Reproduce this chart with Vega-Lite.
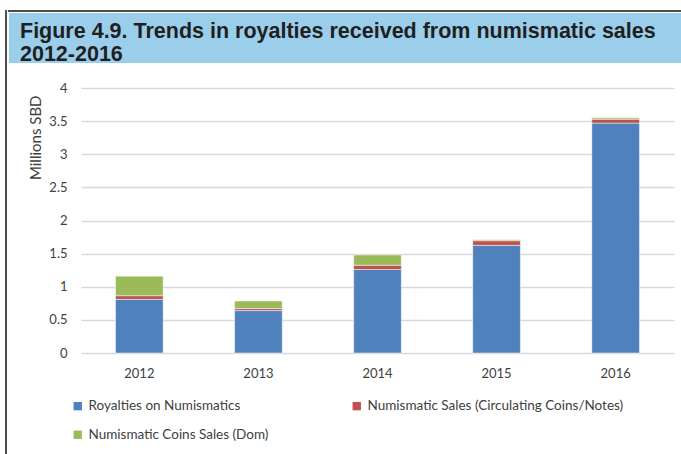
{
  "$schema": "https://vega.github.io/schema/vega-lite/v6.json",
  "padding": {"left": 5, "top": 10, "right": 0, "bottom": 0},
  "background": "white",
  "config": {"view": {"stroke": null}, "font": "Lato"},
  "spacing": 0,
  "resolve": {"scale": {"color": "independent"}, "legend": {"color": "independent"}},
  "hconcat": [
    {
      "width": 0.001, "height": 442,
      "view": {"stroke": "#4d4d4d", "strokeWidth": 2, "fill": null},
      "data": {"values": []},
      "mark": "point",
      "encoding": {}
    },
    {
      "spacing": 17,
      "resolve": {"scale": {"color": "independent"}, "legend": {"color": "independent"}},
      "vconcat": [
        {
          "spacing": 0,
          "vconcat": [
            {
              "width": 672, "height": 0.001,
              "view": {"stroke": "#4d4d4d", "strokeWidth": 2, "fill": null},
              "data": {"values": []},
              "mark": "point",
              "encoding": {}
            },
            {
              "width": 672, "height": 50,
              "view": {"fill": "#9ACEEB", "stroke": "transparent", "strokeWidth": 0},
              "data": {"values": []},
              "mark": "point",
              "encoding": {},
              "title": {
                "text": ["Figure 4.9. Trends in royalties received from numismatic sales", "2012-2016"],
                "font": "Liberation Sans",
                "fontSize": 21.5,
                "fontWeight": "bold",
                "color": "#1f1f1f",
                "anchor": "start",
                "frame": "group",
                "orient": "top",
                "baseline": "top",
                "offset": -52,
                "dx": 11,
                "lineHeight": 23
              }
            }
          ]
        },
        {
          "spacing": 18,
          "resolve": {"scale": {"color": "independent"}, "legend": {"color": "independent"}},
          "hconcat": [
            {
              "width": 0.001, "height": 10,
              "view": {"stroke": "transparent", "strokeWidth": 0, "fill": null},
              "data": {"values": []},
              "mark": "point",
              "encoding": {}
            },
            {
              "width": 593,
              "height": 265,
              "data": {
                "values": [
                  {"year": "2012", "series": "Royalties on Numismatics", "value": 0.81},
                  {"year": "2012", "series": "Numismatic Sales (Circulating Coins/Notes)", "value": 0.055},
                  {"year": "2012", "series": "Numismatic Coins Sales (Dom)", "value": 0.295},
                  {"year": "2013", "series": "Royalties on Numismatics", "value": 0.64},
                  {"year": "2013", "series": "Numismatic Sales (Circulating Coins/Notes)", "value": 0.03},
                  {"year": "2013", "series": "Numismatic Coins Sales (Dom)", "value": 0.115},
                  {"year": "2014", "series": "Royalties on Numismatics", "value": 1.26},
                  {"year": "2014", "series": "Numismatic Sales (Circulating Coins/Notes)", "value": 0.065},
                  {"year": "2014", "series": "Numismatic Coins Sales (Dom)", "value": 0.155},
                  {"year": "2015", "series": "Royalties on Numismatics", "value": 1.625},
                  {"year": "2015", "series": "Numismatic Sales (Circulating Coins/Notes)", "value": 0.07},
                  {"year": "2015", "series": "Numismatic Coins Sales (Dom)", "value": 0.015},
                  {"year": "2016", "series": "Royalties on Numismatics", "value": 3.47},
                  {"year": "2016", "series": "Numismatic Sales (Circulating Coins/Notes)", "value": 0.06},
                  {"year": "2016", "series": "Numismatic Coins Sales (Dom)", "value": 0.02}
                ]
              },
              "mark": {"type": "bar", "stroke": "#ffffff", "strokeWidth": 0.8, "strokeOpacity": 0.6},
              "encoding": {
                "x": {
                  "field": "year", "type": "nominal",
                  "scale": {"paddingInner": 0.6, "paddingOuter": 0.29},
                  "axis": {"title": null, "labelAngle": 0, "domain": false, "ticks": false, "labelPadding": 14, "labelFontSize": 13, "labelColor": "#404040", "labelFont": "Lato"}
                },
                "y": {
                  "field": "value", "type": "quantitative", "stack": "zero",
                  "scale": {"domain": [0, 4]},
                  "axis": {
                    "title": "Millions SBD",
                    "values": [0, 0.5, 1, 1.5, 2, 2.5, 3, 3.5, 4],
                    "format": "~g",
                    "domain": false, "ticks": false,
                    "gridColor": "#D9D9D9", "gridWidth": 1.5,
                    "labelPadding": 14, "labelFontSize": 13, "labelColor": "#404040", "labelFont": "Lato",
                    "titleFontSize": 15, "titleFontWeight": "normal", "titleColor": "#404040", "titleFont": "Lato",
                    "titleAnchor": "end", "titleY": 7, "titlePadding": 5
                  }
                },
                "color": {
                  "field": "series", "type": "nominal",
                  "sort": ["Royalties on Numismatics", "Numismatic Sales (Circulating Coins/Notes)", "Numismatic Coins Sales (Dom)"],
                  "scale": {
                    "domain": ["Royalties on Numismatics", "Numismatic Sales (Circulating Coins/Notes)", "Numismatic Coins Sales (Dom)"],
                    "range": ["#4F81BD", "#C0504D", "#9BBB59"]
                  },
                  "legend": {
                    "title": null, "orient": "none", "legendX": -10, "legendY": 311, "direction": "horizontal",
                    "columns": 2, "columnPadding": 81, "rowPadding": 14,
                    "symbolType": "square", "symbolSize": 70, "symbolStrokeWidth": 0, "labelOffset": 4,
                    "labelLimit": 400, "labelFontSize": 13.5, "labelColor": "#404040", "labelFont": "Lato"
                  }
                }
              }
            }
          ]
        }
      ]
    }
  ]
}
